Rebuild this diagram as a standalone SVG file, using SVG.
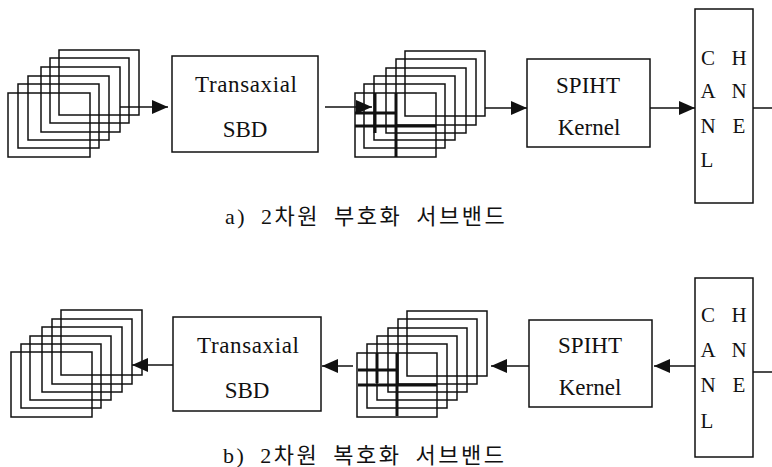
<svg xmlns="http://www.w3.org/2000/svg" width="772" height="467" viewBox="0 0 772 467">
<style>
.f{fill:none;stroke:#111;stroke-width:1.5}
.th{fill:none;stroke:#111;stroke-width:3}
.b{fill:#fff;stroke:#111;stroke-width:1.5}
.c{fill:none;stroke:#111;stroke-width:1.5}
.t{font-family:'Liberation Serif','DejaVu Serif','Times New Roman',serif;font-size:23px;fill:#111;text-anchor:middle}
.ch{font-family:'Liberation Serif','DejaVu Serif','Times New Roman',serif;font-size:21px;fill:#111;text-anchor:middle}
.cap{font-family:'Liberation Serif','Noto Sans CJK KR',serif;font-size:22px;letter-spacing:2.5px;word-spacing:6px;fill:#111}
</style>
<defs>
<marker id="ah" markerWidth="16" markerHeight="14" refX="16" refY="7" orient="auto" markerUnits="userSpaceOnUse">
<path d="M0,0 L16,7 L0,14 Z" fill="#111"/>
</marker>
</defs>
<rect width="772" height="467" fill="#fff"/>

<g id="stack-in-top">
<rect class="f" x="59" y="50" width="80" height="65"/>
<rect class="f" x="50" y="58" width="79" height="65"/>
<rect class="f" x="41" y="67" width="79" height="65"/>
<rect class="f" x="28" y="76" width="81" height="64"/>
<rect class="f" x="18" y="84" width="81" height="64"/>
<rect class="f" x="8" y="93" width="82" height="64"/>
</g>

<g id="sbd-top">
<rect class="b" x="172" y="56" width="146" height="96"/>
<text class="t" x="246" y="92" textLength="102" lengthAdjust="spacing">Transaxial</text>
<text class="t" x="245" y="137">SBD</text>
</g>

<g id="stack-sub-top">
<rect class="f" x="405" y="51" width="80" height="65"/>
<rect class="f" x="396" y="59" width="80" height="66"/>
<rect class="f" x="386" y="68" width="80" height="65"/>
<rect class="f" x="374" y="76" width="81" height="64"/>
<rect class="f" x="364" y="84" width="81" height="64"/>
<rect class="f" x="355" y="93" width="81" height="64"/>
<line class="th" x1="375" y1="93" x2="375" y2="133"/>
<line class="th" x1="396" y1="93" x2="396" y2="157"/>
<line class="th" x1="355" y1="113" x2="396" y2="113"/>
<line class="th" x1="355" y1="126" x2="436" y2="126"/>
</g>

<g id="spiht-top">
<rect class="b" x="527" y="59" width="123" height="88"/>
<text class="t" x="588" y="93">SPIHT</text>
<text class="t" x="589" y="135">Kernel</text>
</g>

<g id="channel-top">
<rect class="b" x="695" y="9" width="58" height="194"/>
<text class="ch" x="708" y="65">C</text>
<text class="ch" x="739" y="65">H</text>
<text class="ch" x="708" y="98">A</text>
<text class="ch" x="739" y="98">N</text>
<text class="ch" x="708" y="133">N</text>
<text class="ch" x="739" y="133">E</text>
<text class="ch" x="707" y="167">L</text>
</g>

<g id="stack-out-bottom">
<rect class="f" x="61" y="310" width="81" height="65"/>
<rect class="f" x="52" y="319" width="80" height="65"/>
<rect class="f" x="42" y="327" width="80" height="65"/>
<rect class="f" x="30" y="336" width="81" height="64"/>
<rect class="f" x="21" y="344" width="80" height="64"/>
<rect class="f" x="11" y="352" width="81" height="65"/>
</g>

<g id="sbd-bottom">
<rect class="b" x="173" y="317" width="148" height="94"/>
<text class="t" x="248" y="353" textLength="102" lengthAdjust="spacing">Transaxial</text>
<text class="t" x="247" y="398">SBD</text>
</g>

<g id="stack-sub-bottom">
<rect class="f" x="407" y="311" width="80" height="65"/>
<rect class="f" x="398" y="319" width="79" height="65"/>
<rect class="f" x="388" y="328" width="79" height="64"/>
<rect class="f" x="377" y="336" width="80" height="64"/>
<rect class="f" x="367" y="344" width="80" height="64"/>
<rect class="f" x="357" y="353" width="80" height="64"/>
<line class="th" x1="377" y1="353" x2="377" y2="383"/>
<line class="th" x1="397" y1="353" x2="397" y2="416"/>
<line class="th" x1="358" y1="370" x2="397" y2="370"/>
<line class="th" x1="358" y1="385" x2="437" y2="385"/>
</g>

<g id="spiht-bottom">
<rect class="b" x="529" y="320" width="123" height="87"/>
<text class="t" x="590" y="353">SPIHT</text>
<text class="t" x="590" y="395">Kernel</text>
</g>

<g id="channel-bottom">
<rect class="b" x="695" y="278" width="58" height="179"/>
<text class="ch" x="708" y="322">C</text>
<text class="ch" x="739" y="322">H</text>
<text class="ch" x="708" y="357">A</text>
<text class="ch" x="739" y="357">N</text>
<text class="ch" x="708" y="392">N</text>
<text class="ch" x="739" y="392">E</text>
<text class="ch" x="707" y="428">L</text>
</g>

<g id="connectors">
<line class="c" x1="120" y1="107" x2="168" y2="107" marker-end="url(#ah)"/>
<line class="c" x1="325" y1="107" x2="372" y2="107" marker-end="url(#ah)"/>
<line class="c" x1="485" y1="108" x2="527" y2="108" marker-end="url(#ah)"/>
<line class="c" x1="650" y1="108" x2="695" y2="108" marker-end="url(#ah)"/>
<line class="c" x1="753" y1="108" x2="772" y2="108"/>
<line class="c" x1="173" y1="365" x2="132" y2="365" marker-end="url(#ah)"/>
<line class="c" x1="353" y1="366" x2="322" y2="366" marker-end="url(#ah)"/>
<line class="c" x1="529" y1="366" x2="491" y2="366" marker-end="url(#ah)"/>
<line class="c" x1="695" y1="366" x2="654" y2="366" marker-end="url(#ah)"/>
<line class="c" x1="753" y1="372" x2="772" y2="372"/>
</g>

<g id="captions">
<text class="cap" x="225" y="224">a) 2차원 부호화 서브밴드</text>
<text class="cap" x="223" y="463">b) 2차원 복호화 서브밴드</text>
</g>
</svg>
